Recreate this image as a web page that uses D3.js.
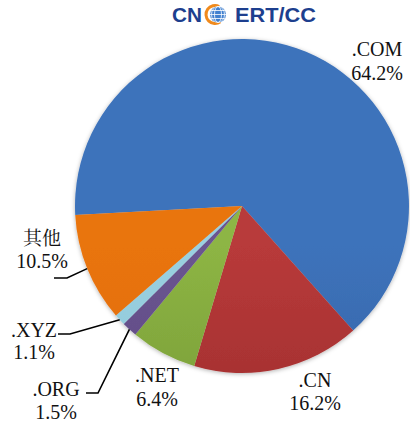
<!DOCTYPE html>
<html>
<head>
<meta charset="utf-8">
<script src="https://cdn.jsdelivr.net/npm/d3@7/dist/d3.min.js"></script>
<style>
  html, body { margin: 0; padding: 0; background: #ffffff; }
  svg { display: block; }
</style>
</head>
<body>
<svg id="chart" width="410" height="423"></svg>
<script>
// ---- data ----
const categories = ['.COM', '.CN', '.NET', '.ORG', '.XYZ', '其他'];
const values = [64.2, 16.2, 6.4, 1.5, 1.1, 10.5];
const valueLabels = ['64.2%', '16.2%', '6.4%', '1.5%', '1.1%', '10.5%'];
const colorsTop = ['#3E73BB', '#B83A3A', '#8DB544', '#6A5590', '#9AD0E0', '#E9740E'];
const colorsBottom = ['#2B5796', '#8F2626', '#6A8A2F', '#56417A', '#86C2D5', '#DA660A'];

// ---- layout ----
const cx = 242, cy = 206, R = 167;
const startDeg = -93.1;

// label layout: [centerX, baseline1, baseline2, elbowX, elbowY, endX] (elbow null = no leader)
const labelLayout = [
  [377, 56, 80, null],
  [315, 387, 410, null],
  [157, 382, 406, null],
  [56, 396, 419, 98, 393, 86],
  [34, 337, 359, 70, 334, 58],
  [42, 245, 268, 67, 278, 54]
];

const svg = d3.select('#chart');
const defs = svg.append('defs');

const filter = defs.append('filter').attr('id', 'shadow')
  .attr('x', '-10%').attr('y', '-10%').attr('width', '120%').attr('height', '120%');
filter.append('feDropShadow').attr('dx', 0).attr('dy', 1).attr('stdDeviation', 2)
  .attr('flood-color', '#000').attr('flood-opacity', 0.3);

categories.forEach((c, i) => {
  const g = defs.append('linearGradient').attr('id', 'grad' + i)
    .attr('gradientUnits', 'userSpaceOnUse')
    .attr('x1', 0).attr('y1', cy - R).attr('x2', 0).attr('y2', cy + R);
  g.append('stop').attr('offset', '0%').attr('stop-color', colorsTop[i]);
  g.append('stop').attr('offset', '100%').attr('stop-color', colorsBottom[i]);
});

const pie = d3.pie().sort(null).value(d => d)
  .startAngle(startDeg * Math.PI / 180)
  .endAngle((startDeg + 360) * Math.PI / 180);
const arcs = pie(values);
const arc = d3.arc().innerRadius(0).outerRadius(R);
const edgeArc = d3.arc().innerRadius(R).outerRadius(R);

const gPie = svg.append('g').attr('transform', `translate(${cx},${cy})`)
  .attr('filter', 'url(#shadow)');
gPie.selectAll('path').data(arcs).enter().append('path')
  .attr('d', arc)
  .attr('fill', (d, i) => `url(#grad${i})`);

// leader lines
arcs.forEach((d, i) => {
  const L = labelLayout[i];
  if (L[3] == null) return;
  const e = edgeArc.centroid(d);
  const pts = [[cx + e[0], cy + e[1]], [L[3], L[4]], [L[5], L[4]]];
  svg.append('path')
    .attr('d', d3.line()(pts))
    .attr('fill', 'none').attr('stroke', '#000').attr('stroke-width', 1.6);
});

// labels
const serifFont = 'Liberation Serif';
const cjkFont = 'Noto Serif CJK SC';
const labels = svg.append('g');
categories.forEach((c, i) => {
  const L = labelLayout[i];
  const isCjk = /[\u4e00-\u9fff]/.test(c);
  labels.append('text')
    .attr('x', L[0]).attr('y', L[1])
    .attr('text-anchor', 'middle').attr('font-size', isCjk ? 19 : 20).attr('fill', '#111')
    .attr('font-family', isCjk ? cjkFont : serifFont)
    .style('font-family', isCjk ? cjkFont : serifFont)
    .text(c);
  labels.append('text')
    .attr('x', L[0]).attr('y', L[2])
    .attr('text-anchor', 'middle').attr('font-size', 20).attr('fill', '#111')
    .attr('font-family', serifFont)
    .style('font-family', serifFont)
    .text(valueLabels[i]);
});

// logo
const logo = svg.append('g');
const logoFont = 'Arial';
const logoBlue = '#1D3F8E';
logo.append('text').attr('x', 172).attr('y', 22).attr('font-family', logoFont)
  .attr('font-weight', 'bold').attr('font-size', 21).attr('fill', logoBlue)
  .attr('textLength', 30).attr('lengthAdjust', 'spacingAndGlyphs').text('CN');
logo.append('text').attr('x', 235).attr('y', 22).attr('font-family', logoFont)
  .attr('font-weight', 'bold').attr('font-size', 21).attr('fill', logoBlue)
  .attr('textLength', 81).attr('lengthAdjust', 'spacingAndGlyphs').text('ERT/CC');
// globe mark
const gx = 217, gy = 14.5;
logo.append('path')
  .attr('d', d3.arc().innerRadius(7.5).outerRadius(10.5).startAngle(Math.PI * 0.8).endAngle(Math.PI * 2.15)())
  .attr('transform', `translate(${gx - 2},${gy})`).attr('fill', '#F08A1C');
logo.append('circle').attr('cx', gx + 1).attr('cy', gy).attr('r', 8).attr('fill', '#3F7FCF');
[-4, 0, 4].forEach(dy => {
  const hw = Math.sqrt(Math.max(0, 8 * 8 - dy * dy));
  logo.append('line').attr('x1', gx + 1 - hw).attr('x2', gx + 1 + hw)
    .attr('y1', gy + dy).attr('y2', gy + dy).attr('stroke', '#fff').attr('stroke-width', 0.8);
});
[3.5, 6.5].forEach(rx => {
  logo.append('ellipse').attr('cx', gx + 1).attr('cy', gy).attr('rx', rx).attr('ry', 8)
    .attr('fill', 'none').attr('stroke', '#fff').attr('stroke-width', 0.8);
});
</script>
</body>
</html>
